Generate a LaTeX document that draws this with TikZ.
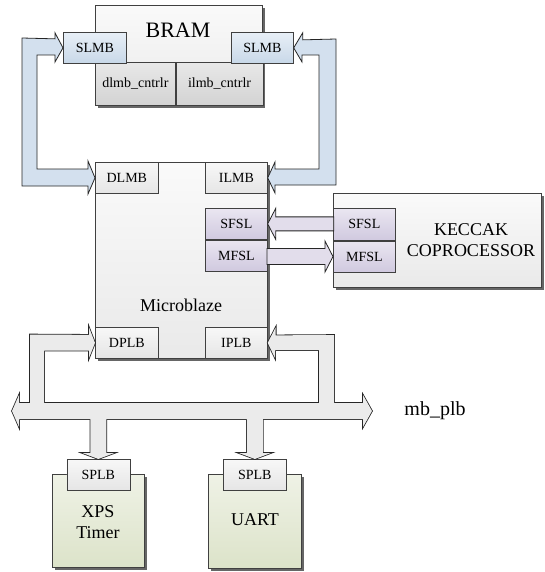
\documentclass[tikz,border=0pt]{standalone}
\usepackage{fontspec}
\setmainfont{Liberation Serif}
\newfontfamily\labelfont{Liberation Serif}
\usetikzlibrary{positioning, shadows}

\definecolor{lmbfill}{HTML}{D3E0EE}
\definecolor{lmbtop}{HTML}{E8EFF7}
\definecolor{lmbbot}{HTML}{C8D8E8}
\definecolor{fsltop}{HTML}{EAE6F1}
\definecolor{fslbot}{HTML}{D0C9DF}
\definecolor{fslfill}{HTML}{E2DDEB}
\definecolor{periphtop}{HTML}{EFF2E6}
\definecolor{periphbot}{HTML}{DCE3C9}
\definecolor{plbfill}{HTML}{EBEBEB}

\tikzset{
	blk/.style={draw=black!75, line width=0.7pt, inner sep=0pt, anchor=north west,
		top color=gray!4, bottom color=gray!17,
		drop shadow={shadow xshift=2.5pt, shadow yshift=-2.5pt, fill=black!60, opacity=1}},
	periph/.style={blk, top color=periphtop, bottom color=periphbot},
	port/.style={draw=black!75, line width=0.7pt, inner sep=0pt,
		minimum width=63pt, minimum height=31pt,
		top color=gray!6, bottom color=gray!20,
		font=\labelfont\fontsize{14}{16}\selectfont},
	lmbport/.style={port, top color=lmbtop, bottom color=lmbbot},
	fslport/.style={port, top color=fsltop, bottom color=fslbot},
	ctrl/.style={port, minimum height=43pt, top color=gray!18, bottom color=gray!35},
	bigtxt/.style={font=\labelfont\fontsize{18}{21}\selectfont, align=center},
	lmbarrow/.style={draw=black!85, line width=0.8pt, fill=lmbfill, line join=miter},
	fslarrow/.style={draw=black!85, line width=0.8pt, fill=fslfill, line join=miter},
	plbout/.style={draw=black!85, line width=1.6pt, line join=miter},
	plbin/.style={fill=plbfill},
}

% PLB shapes (outline first, then fill, so the parts merge)
\newcommand\plbbus{(busL) -- ++(7,-16) -- ++(0,8) -- ++(344,0) -- ++(0,-8) -- ++(9,16)
	-- ++(-9,16) -- ++(0,-8) -- ++(-344,0) -- ++(0,8) -- cycle}
\newcommand\plbdata{(dplb.west) -- ++(-6,-15.5) -- ++(0,7.5) -- (30,334.5) -- (30,411)
	-- (44,411) -- (44,350.5) -- (89,350.5) -- (89,358) -- cycle}
\newcommand\plbinstr{(iplb.east) -- ++(8,-15.5) -- ++(0,8) -- (334,335) -- (334,411)
	-- (319,411) -- (319,350) -- (275,350) -- (275,358) -- cycle}
\newcommand\plbtimer{(tsplb.north) -- ++(-16,-6) -- ++(8,0) -- ++(0,-42) -- ++(16,0)
	-- ++(0,42) -- ++(8,0) -- cycle}
\newcommand\plbuart{(usplb.north) -- ++(-16,-6) -- ++(8,0) -- ++(0,-42) -- ++(16,0)
	-- ++(0,42) -- ++(8,0) -- cycle}

\begin{document}
\begin{tikzpicture}[x=1pt, y=-1pt]
	\useasboundingbox (0,0) rectangle (544,572);

	% BRAM
	\node[blk, minimum width=167pt, minimum height=100pt] (bram) at (95,5) {};
	\node[font=\labelfont\fontsize{22}{24}\selectfont] (bramname) at (178,30) {BRAM};
	\node[ctrl, minimum width=80pt, below right=57pt and 0pt of bram.north west] (dlmbc) {dlmb\_cntrlr};
	\node[ctrl, minimum width=87pt, right=0pt of dlmbc] (ilmbc) {ilmb\_cntrlr};
	\node[lmbport, anchor=north west] (slmbL) at (63,32) {SLMB};
	\node[lmbport, minimum width=62pt, anchor=north west] (slmbR) at (231,32) {SLMB};

	% Microblaze
	\node[blk, minimum width=172pt, minimum height=196pt] (mb) at (95,162) {};
	\node[bigtxt] (mbname) at (181,305) {Microblaze};
	\node[port, below right=0pt and 0pt of mb.north west] (dlmb) {DLMB};
	\node[port, minimum width=62pt, below left=0pt and 0pt of mb.north east] (ilmb) {ILMB};
	\node[fslport, minimum width=62pt, below left=46pt and 0pt of mb.north east] (sfsl) {SFSL};
	\node[fslport, minimum width=62pt, below=0pt of sfsl] (mfsl) {MFSL};
	\node[port, above right=0pt and 0pt of mb.south west] (dplb) {DPLB};
	\node[port, minimum width=62pt, above left=0pt and 0pt of mb.south east] (iplb) {IPLB};

	% coprocessor
	\node[blk, minimum width=208pt, minimum height=94pt] (keccak) at (333,193) {};
	\node[bigtxt] (keccakname) at (471,240) {KECCAK\\COPROCESSOR};
	\node[fslport, minimum width=62pt, minimum height=32pt, below right=15pt and 0pt of keccak.north west] (ksfsl) {SFSL};
	\node[fslport, minimum width=62pt, below=0pt of ksfsl] (kmfsl) {MFSL};

	% peripherals
	\node[periph, minimum width=92pt, minimum height=93pt] (timer) at (52,474) {};
	\node[bigtxt] (timername) at (98,522) {XPS\\Timer};
	\node[port, below=-15pt of timer.north] (tsplb) {SPLB};
	\node[periph, minimum width=93pt, minimum height=94pt] (uart) at (208,474) {};
	\node[bigtxt] (uartname) at (255,520) {UART};
	\node[port, below=-15pt of uart.north] (usplb) {SPLB};

	\coordinate (busL) at (12,411);
	\node[font=\labelfont\fontsize{20}{22}\selectfont] (busname) at (435,411) {mb\_plb};

	% LMB
	\draw[lmbarrow] (slmbL.west) -- ++(-8,-15) -- ++(0,6) -- (22,38) -- (22,186)
		-- (88,186) -- ++(0,8) -- (dlmb.west) -- (88,161) -- (88,169) -- (37,169)
		-- (37,55) -- (55,55) -- (55,62) -- cycle;
	\draw[lmbarrow] (slmbR.east) -- ++(9,-15) -- ++(0,7) -- (336,39) -- (336,185)
		-- (275,185) -- ++(0,8) -- (ilmb.east) -- (275,162) -- (275,169) -- (319,169)
		-- (319,55) -- (302,55) -- (302,62) -- cycle;

	% FSL
	\draw[fslarrow] (sfsl.east) -- ++(8,-15.5) -- ++(0,8.5) -- ++(58,0) -- ++(0,14)
		-- ++(-58,0) -- ++(0,8.5) -- cycle;
	\draw[fslarrow] (kmfsl.west) -- ++(-8,-15.5) -- ++(0,7.5) -- ++(-58,0) -- ++(0,16)
		-- ++(58,0) -- ++(0,7.5) -- cycle;

	% PLB
	\foreach \shp in {\plbbus, \plbdata, \plbinstr, \plbtimer, \plbuart}
		\draw[plbout] \shp;
	\foreach \shp in {\plbbus, \plbdata, \plbinstr, \plbtimer, \plbuart}
		\fill[plbin] \shp;
\end{tikzpicture}
\end{document}
